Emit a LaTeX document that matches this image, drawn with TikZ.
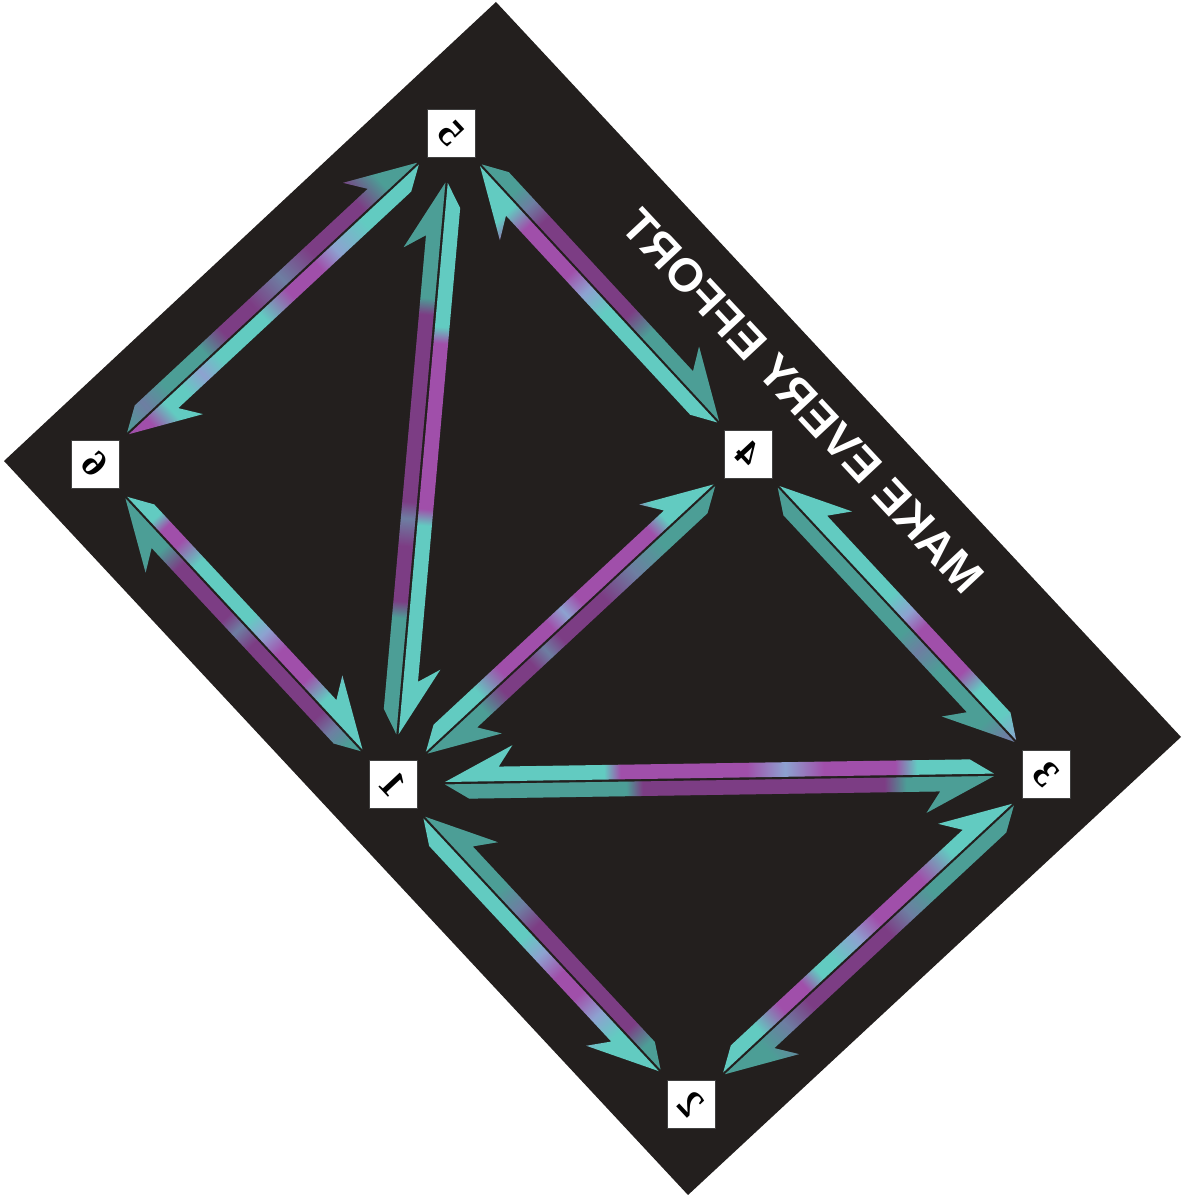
\documentclass[tikz,border=0pt]{standalone}
\usepackage{fontspec}
\setsansfont{Liberation Sans}
\newfontfamily\digfont{Liberation Serif}
\usetikzlibrary{calc}

\definecolor{matblack}{HTML}{231F1E}
\definecolor{tl}{HTML}{62CBC1}
\definecolor{pu}{HTML}{A04FAA}
\definecolor{bl}{HTML}{8DA2D0}

\newcommand\mkshade[2]{\pgfdeclarehorizontalshading{#1}{100bp}{#2}}
\mkshade{s13A}{color(0bp)=(tl); color(39.5bp)=(tl); color(41bp)=(pu); color(52.5bp)=(pu); color(56bp)=(bl); color(59.5bp)=(pu); color(66bp)=(pu); color(68bp)=(tl); color(100bp)=(tl)}
\mkshade{s13B}{color(0bp)=(tl); color(41.5bp)=(tl); color(43bp)=(pu); color(65bp)=(pu); color(67bp)=(tl); color(100bp)=(tl)}
\mkshade{s51A}{color(0bp)=(tl); color(35.5bp)=(tl); color(37bp)=(pu); color(54bp)=(pu); color(55.5bp)=(bl); color(58bp)=(pu); color(63bp)=(pu); color(64.5bp)=(tl); color(100bp)=(tl)}
\mkshade{s51B}{color(0bp)=(tl); color(38bp)=(tl); color(39.5bp)=(pu); color(54.5bp)=(pu); color(56bp)=(tl); color(100bp)=(tl)}
\mkshade{s56A}{color(0bp)=(tl); color(30bp)=(tl); color(34bp)=(pu); color(42.5bp)=(pu); color(47.5bp)=(bl); color(52.5bp)=(pu); color(57.5bp)=(pu); color(61bp)=(tl); color(67.5bp)=(tl); color(71bp)=(bl); color(75bp)=(tl); color(100bp)=(tl)}
\mkshade{s56B}{color(0bp)=(tl); color(35bp)=(tl); color(40bp)=(bl); color(43bp)=(pu); color(48bp)=(pu); color(52.5bp)=(tl); color(60bp)=(tl); color(63bp)=(bl); color(66bp)=(tl); color(69bp)=(tl); color(72bp)=(pu); color(100bp)=(pu)}
\mkshade{s54A}{color(0bp)=(tl); color(32.5bp)=(tl); color(36bp)=(pu); color(45bp)=(pu); color(48.5bp)=(bl); color(52.5bp)=(tl); color(100bp)=(tl)}
\mkshade{s54B}{color(0bp)=(tl); color(31bp)=(tl); color(34bp)=(bl); color(37bp)=(pu); color(55bp)=(pu); color(59bp)=(tl); color(100bp)=(tl)}
\mkshade{s61A}{color(0bp)=(tl); color(34bp)=(tl); color(37.5bp)=(pu); color(47.5bp)=(pu); color(50bp)=(bl); color(53bp)=(pu); color(67bp)=(pu); color(70bp)=(bl); color(73bp)=(tl); color(100bp)=(tl)}
\mkshade{s61B}{color(0bp)=(tl); color(30bp)=(tl); color(32bp)=(pu); color(35bp)=(pu); color(39bp)=(tl); color(50bp)=(tl); color(53bp)=(bl); color(56.5bp)=(pu); color(62bp)=(pu); color(66bp)=(tl); color(100bp)=(tl)}
\mkshade{s41A}{color(0bp)=(tl); color(32.5bp)=(tl); color(35bp)=(pu); color(47.5bp)=(pu); color(50bp)=(bl); color(52.5bp)=(pu); color(61bp)=(pu); color(65bp)=(tl); color(100bp)=(tl)}
\mkshade{s41B}{color(0bp)=(tl); color(35bp)=(tl); color(40bp)=(bl); color(45bp)=(pu); color(52.5bp)=(pu); color(55bp)=(bl); color(57.5bp)=(pu); color(62.5bp)=(pu); color(66bp)=(tl); color(100bp)=(tl)}
\mkshade{s43A}{color(0bp)=(tl); color(47.5bp)=(tl); color(51bp)=(bl); color(54bp)=(pu); color(62.5bp)=(pu); color(66bp)=(tl); color(71bp)=(tl); color(75bp)=(bl); color(100bp)=(bl)}
\mkshade{s43B}{color(0bp)=(tl); color(52.5bp)=(tl); color(56bp)=(bl); color(60bp)=(tl); color(70bp)=(tl); color(73.5bp)=(bl); color(100bp)=(bl)}
\mkshade{s12A}{color(0bp)=(tl); color(40bp)=(tl); color(44bp)=(bl); color(47.5bp)=(pu); color(67.5bp)=(pu); color(71bp)=(tl); color(100bp)=(tl)}
\mkshade{s12B}{color(0bp)=(tl); color(47.5bp)=(tl); color(51bp)=(bl); color(55bp)=(pu); color(59bp)=(pu); color(63bp)=(bl); color(67bp)=(tl); color(100bp)=(tl)}
\mkshade{s32A}{color(0bp)=(tl); color(35bp)=(tl); color(40bp)=(pu); color(47.5bp)=(pu); color(51bp)=(bl); color(55bp)=(tl); color(57.5bp)=(tl); color(60bp)=(pu); color(64bp)=(pu); color(68bp)=(tl); color(100bp)=(tl)}
\mkshade{s32B}{color(0bp)=(tl); color(40bp)=(tl); color(44bp)=(bl); color(47.5bp)=(pu); color(61bp)=(pu); color(65bp)=(bl); color(69bp)=(tl); color(100bp)=(tl)}

% #1 from node A, #2 to node B, #3 side (1/-1) of the strip pointing to B,
% #4 end gap, #5 shading of strip to B, #6 shading of strip to A, #7 darker strip (A/B)
\newcommand\arrpair[7]{%
  \path let \p1=(#1.center), \p2=(#2.center) in \pgfextra{%
    \pgfmathsetmacro\tmpang{atan2(\y2-\y1,\x2-\x1)}\global\let\arrang\tmpang
    \pgfmathsetmacro\tmplen{veclen(\x2-\x1,\y2-\y1)}\global\let\arrlen\tmplen};
  \begin{scope}[transform canvas={shift={(#1.center)},rotate=\arrang}]
    \pgfmathsetmacro\xa{#4}\pgfmathsetmacro\xb{\arrlen-#4}
    \pgfmathsetmacro\yBi{#3*1.2}\pgfmathsetmacro\yBo{#3*15.8}\pgfmathsetmacro\yBb{#3*37}
    \pgfmathsetmacro\yAi{0-(\yBi)}\pgfmathsetmacro\yAo{0-(\yBo)}\pgfmathsetmacro\yAb{0-(\yBb)}
    \def\pB{(\xa,\yBi) -- (\xa+24,\yBo) -- (\xb-54,\yBo) -- (\xb-68,\yBb) -- (\xb,\yBi) -- cycle}
    \def\pA{(\xb,\yAi) -- (\xb-24,\yAo) -- (\xa+54,\yAo) -- (\xa+68,\yAb) -- (\xa,\yAi) -- cycle}
    \shade[shading=#5] \pB;
    \shade[shading=#6] \pA;
    \ifx B#7 \fill[black,opacity=.22] \pB; \else \fill[black,opacity=.22] \pA; \fi
  \end{scope}}

\tikzset{
  sq/.style={draw=black!75, line width=0.6pt, fill=white, minimum size=48pt, inner sep=0pt},
  dig/.style={font=\digfont\bfseries\fontsize{38}{38}\selectfont, text=black, inner sep=0pt, rotate=-47, xscale=-1},
  title/.style={font=\sffamily\bfseries\fontsize{46.5}{50}\selectfont, text=white, inner sep=0pt, rotate=-47, xscale=-1}
}

\begin{document}
\begin{tikzpicture}[x=1pt,y=1pt]
\useasboundingbox (0,0) rectangle (1183,1200);
\fill[white] (0,0) rectangle (1183,1200);
\fill[matblack] (496,1198) -- (1181,463) -- (688,5) -- (4,739) -- cycle;

\node[sq] (n1) at (393,416) {};
\node[sq] (n2) at (691,96) {};
\node[sq] (n3) at (1046,426) {};
\node[sq] (n4) at (748,746) {};
\node[sq] (n5) at (451,1067) {};
\node[sq] (n6) at (95,736) {};
\node[dig] (d1) at (n1) {1};
\node[dig] (d2) at (n2) {2};
\node[dig] (d3) at (n3) {3};
\node[dig] (d4) at (n4) {4};
\node[dig] (d5) at (n5) {5};
\node[dig] (d6) at (n6) {6};

\arrpair{n1}{n3}{-1}{52}{s13B}{s13A}{B}
\arrpair{n5}{n1}{1}{50}{s51B}{s51A}{A}
\arrpair{n5}{n6}{1}{45}{s56B}{s56A}{A}
\arrpair{n5}{n4}{1}{44}{s54B}{s54A}{B}
\arrpair{n6}{n1}{1}{46}{s61B}{s61A}{A}
\arrpair{n4}{n1}{1}{46}{s41B}{s41A}{B}
\arrpair{n4}{n3}{-1}{45}{s43B}{s43A}{B}
\arrpair{n1}{n2}{-1}{46}{s12B}{s12A}{A}
\arrpair{n3}{n2}{1}{45}{s32B}{s32A}{B}

\node[title] (ttl) at (803,799) {MAKE EVERY EFFORT};
\end{tikzpicture}
\end{document}
